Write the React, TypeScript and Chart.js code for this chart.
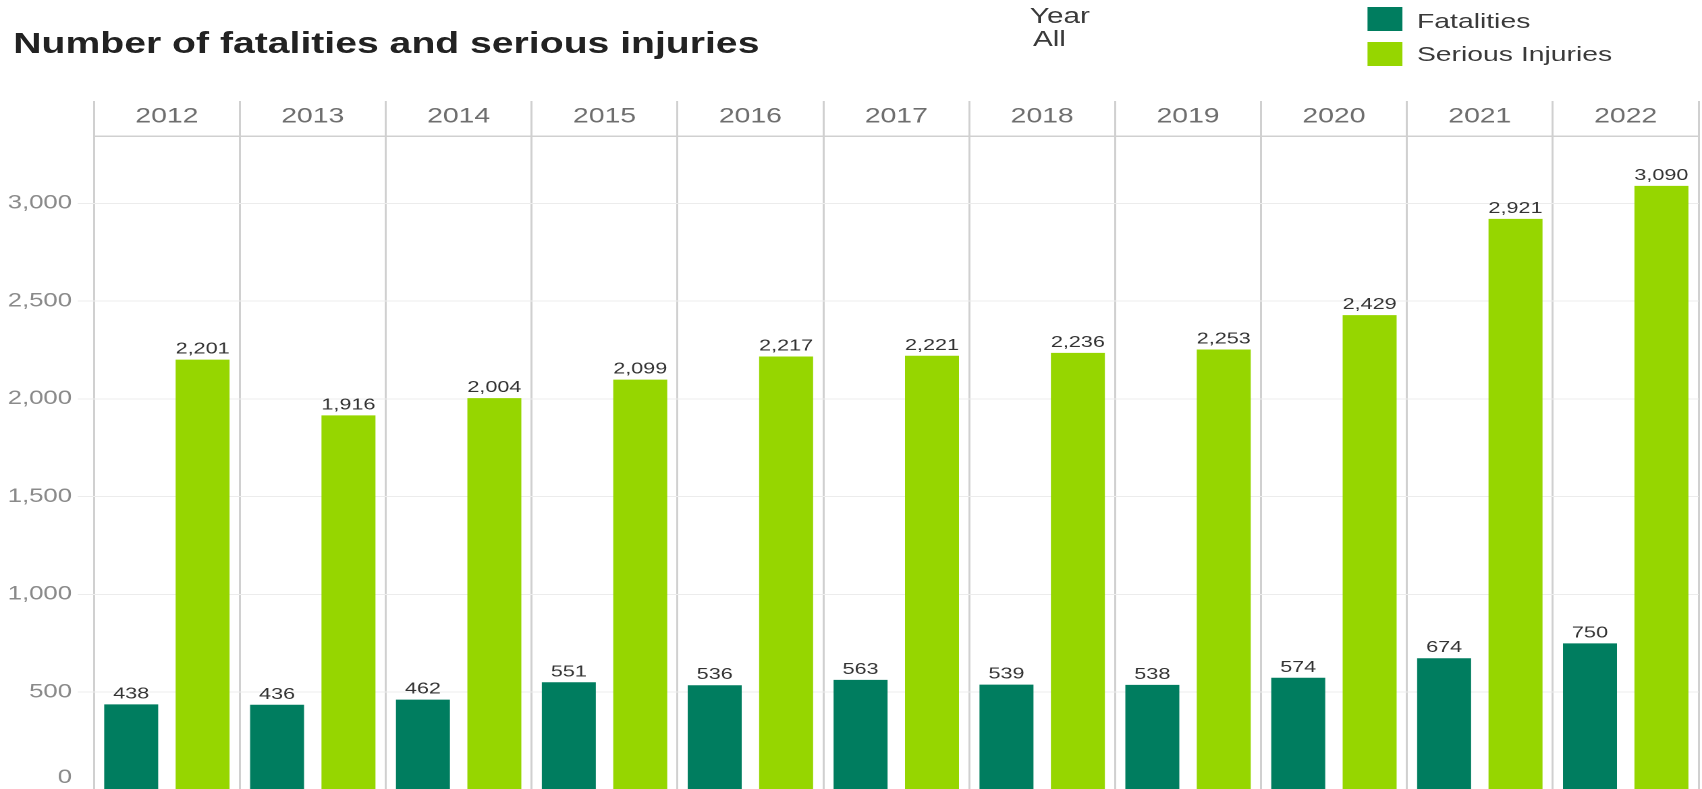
import React, { useEffect, useRef } from "react";
import { Chart, registerables } from "chart.js";

Chart.register(...registerables);

const years = ["2012", "2013", "2014", "2015", "2016", "2017", "2018", "2019", "2020", "2021", "2022"];
const fatalities = [438, 436, 462, 551, 536, 563, 539, 538, 574, 674, 750];
const seriousInjuries = [2201, 1916, 2004, 2099, 2217, 2221, 2236, 2253, 2429, 2921, 3090];
const yMax = 3345;

const FONT = "'Liberation Sans', Arial, Helvetica, sans-serif";
const W = 1261;
const H = 790;
const S = 1702 / W;
const C_FAT = "#007D5F";
const C_SER = "#96D600";

const valueLabels = {
  id: "valueLabels",
  afterDatasetsDraw(chart: any) {
    const ctx = chart.ctx;
    ctx.save();
    ctx.font = `16px ${FONT}`;
    ctx.fillStyle = "#333333";
    ctx.textAlign = "center";
    ctx.textBaseline = "alphabetic";
    chart.data.datasets.forEach((ds: any, i: number) => {
      const meta = chart.getDatasetMeta(i);
      meta.data.forEach((bar: any, j: number) => {
        ctx.fillText(Number(ds.data[j]).toLocaleString("en-US"), bar.x, bar.y - 6);
      });
    });
    // zero label, lifted inside the visible area
    const y = chart.scales.y;
    ctx.font = `19px ${FONT}`;
    ctx.fillStyle = "#8a8a8a";
    ctx.textAlign = "right";
    ctx.textBaseline = "middle";
    ctx.fillText("0", y.right - 16.3, y.getPixelForValue(0) - 12);
    ctx.restore();
  },
};

export default function App() {
  const ref = useRef<HTMLCanvasElement | null>(null);

  useEffect(() => {
    if (!ref.current) return;
    Chart.defaults.font.family = FONT;
    const chart = new Chart(ref.current, {
      type: "bar",
      data: {
        labels: years,
        datasets: [
          {
            label: "Fatalities",
            data: fatalities,
            backgroundColor: C_FAT,
            categoryPercentage: 0.979,
            barPercentage: 0.756,
          },
          {
            label: "Serious Injuries",
            data: seriousInjuries,
            backgroundColor: C_SER,
            categoryPercentage: 0.979,
            barPercentage: 0.756,
          },
        ],
      },
      options: {
        responsive: false,
        animation: false,
        devicePixelRatio: 2,
        layout: { padding: { top: 101, left: 0, right: 2.5, bottom: 0 } },
        plugins: {
          legend: { display: false },
          tooltip: { enabled: false },
          title: { display: false },
        },
        scales: {
          x: {
            position: "top",
            offset: true,
            afterFit(scale: any) {
              scale.height = 35;
            },
            grid: {
              offset: true,
              color: "#d0d0d0",
              lineWidth: 1.5,
              drawTicks: true,
              tickLength: 35,
            },
            border: { display: true, color: "#d0d0d0", width: 1.5 },
            ticks: {
              font: { size: 21, family: FONT },
              color: "#6e6e6e",
              padding: -28.3,
              maxRotation: 0,
              autoSkip: false,
            },
          },
          y: {
            min: 0,
            max: yMax,
            afterFit(scale: any) {
              scale.width = 69.6;
              scale.paddingTop = 0;
              scale.paddingBottom = 0;
            },
            grid: {
              color: "#ececec",
              lineWidth: 1,
              drawTicks: true,
              tickLength: 12,
            },
            border: { display: false },
            ticks: {
              includeBounds: false,
              font: { size: 19, family: FONT },
              color: "#8a8a8a",
              padding: 4.3,
              callback: (v: any) => (Number(v) === 0 ? "" : Number(v).toLocaleString("en-US")),
            },
          },
        },
      },
      plugins: [valueLabels],
    });
    return () => chart.destroy();
  }, []);

  const text = (fs: number, baseline: number) => baseline - 0.8465 * fs;

  return (
    <div
      style={{
        position: "fixed",
        left: 0,
        top: 0,
        width: 1702,
        height: 789,
        overflow: "hidden",
        background: "#ffffff",
      }}
    >
      <div
        style={{
          position: "absolute",
          left: 0,
          top: 0,
          width: W,
          height: H,
          transform: `scaleX(${S})`,
          transformOrigin: "0 0",
          fontFamily: FONT,
        }}
      >
        <canvas
          ref={ref}
          width={W}
          height={H}
          style={{ position: "absolute", left: 0, top: 0, width: W, height: H }}
        />
        <div
          style={{
            position: "absolute",
            left: 9.9,
            top: text(29, 53.3),
            fontSize: 29,
            lineHeight: "29px",
            fontWeight: "bold",
            color: "#222222",
            whiteSpace: "nowrap",
          }}
        >
          Number of fatalities and serious injuries
        </div>
        <div
          style={{
            position: "absolute",
            left: 763,
            top: text(22, 24),
            fontSize: 22,
            lineHeight: "22px",
            color: "#3a3a3a",
            whiteSpace: "nowrap",
          }}
        >
          Year
        </div>
        <div
          style={{
            position: "absolute",
            left: 765.3,
            top: text(22, 46.7),
            fontSize: 22,
            lineHeight: "22px",
            color: "#3a3a3a",
            whiteSpace: "nowrap",
          }}
        >
          All
        </div>
        <div
          style={{
            position: "absolute",
            left: 1012.8,
            top: 7.3,
            width: 26,
            height: 24,
            background: C_FAT,
          }}
        />
        <div
          style={{
            position: "absolute",
            left: 1049.8,
            top: text(21, 27.5),
            fontSize: 21,
            lineHeight: "21px",
            color: "#3a3a3a",
            whiteSpace: "nowrap",
          }}
        >
          Fatalities
        </div>
        <div
          style={{
            position: "absolute",
            left: 1012.8,
            top: 42.3,
            width: 26,
            height: 24,
            background: C_SER,
          }}
        />
        <div
          style={{
            position: "absolute",
            left: 1049.8,
            top: text(21, 60.5),
            fontSize: 21,
            lineHeight: "21px",
            color: "#3a3a3a",
            whiteSpace: "nowrap",
          }}
        >
          Serious Injuries
        </div>
      </div>
    </div>
  );
}
